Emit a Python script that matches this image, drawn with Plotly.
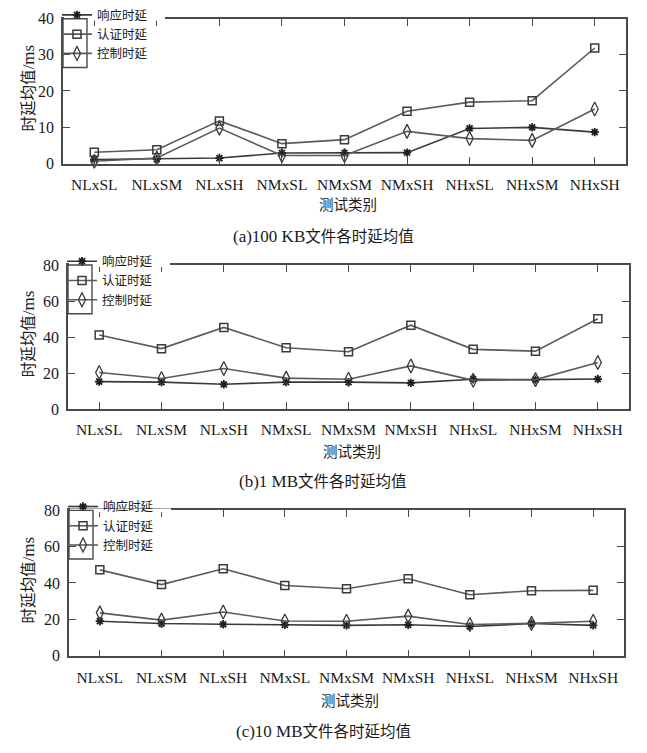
import plotly.graph_objects as go

W, H = 647, 753

categories = ["NLxSL", "NLxSM", "NLxSH", "NMxSL", "NMxSM", "NMxSH", "NHxSL", "NHxSM", "NHxSH"]
series_names = ["响应时延", "认证时延", "控制时延"]

# (a) 100 KB
resp_100kb = [1.0, 1.1, 1.4, 2.8, 2.8, 2.9, 9.6, 9.9, 8.6]
auth_100kb = [3.0, 3.7, 11.7, 5.4, 6.5, 14.4, 16.9, 17.3, 31.9]
ctrl_100kb = [0.5, 1.4, 9.7, 2.1, 2.1, 8.8, 6.8, 6.3, 15.0]

# (b) 1 MB
resp_1mb = [15.3, 15.0, 13.8, 15.0, 15.0, 14.6, 16.6, 16.4, 16.7]
auth_1mb = [41.2, 33.6, 45.4, 34.1, 31.9, 46.6, 33.2, 32.2, 50.2]
ctrl_1mb = [20.3, 17.0, 22.6, 17.2, 16.6, 24.0, 16.0, 16.4, 25.9]

# (c) 10 MB
resp_10mb = [18.9, 17.6, 17.2, 16.9, 16.6, 16.9, 16.0, 17.6, 16.6]
auth_10mb = [47.2, 39.1, 47.8, 38.6, 36.8, 42.3, 33.5, 35.7, 35.9]
ctrl_10mb = [23.5, 19.5, 24.0, 19.0, 18.9, 21.7, 17.1, 17.7, 18.9]

captions = ["(a)100 KB文件各时延均值", "(b)1 MB文件各时延均值", "(c)10 MB文件各时延均值"]
y_ticks_a = [0, 10, 20, 30, 40]
y_ticks_bc = [0, 20, 40, 60, 80]

panels = [
    dict(series=[resp_100kb, auth_100kb, ctrl_100kb], yrange=[-0.2, 40], yticks=y_ticks_a,
         box=(63, 626, 8, 157), xtitle_y=198, caption_y=230),
    dict(series=[resp_1mb, auth_1mb, ctrl_1mb], yrange=[0, 80], yticks=y_ticks_bc,
         box=(68, 629, 261, 409), xtitle_y=451, caption_y=482),
    dict(series=[resp_10mb, auth_10mb, ctrl_10mb], yrange=[-0.5, 80], yticks=y_ticks_bc,
         box=(69, 624, 513, 663), xtitle_y=707, caption_y=739),
]

LINE = "#5b5b5b"
FRAME = "#4a4a4a"
TXT = "#1a1a1a"
SERIF = "Liberation Serif"
CJK = "Noto Sans CJK SC"

marker_styles = [
    dict(symbol="asterisk-open", size=7, color="#1e1e1e", line=dict(color="#1e1e1e", width=1.8)),
    dict(symbol="square-open", size=8, color="#3a3a3a", line=dict(color="#3a3a3a", width=1.5)),
    dict(symbol="diamond-tall-open", size=10, color="#3a3a3a", line=dict(color="#3a3a3a", width=1.3)),
]


def px_x(x):
    return x / W


def px_y(y):
    return 1 - y / H


fig = go.Figure()
layout = dict(
    width=W, height=H,
    margin=dict(l=0, r=0, t=0, b=0),
    paper_bgcolor="white", plot_bgcolor="white",
    showlegend=True,
    shapes=[], annotations=[],
)

for i, p in enumerate(panels):
    n = "" if i == 0 else str(i + 1)
    xa, ya = "x" + n, "y" + n
    legend_name = "legend" + n
    x0, x1, y0, y1 = p["box"]

    for k, (vals, name) in enumerate(zip(p["series"], series_names)):
        fig.add_trace(go.Scatter(
            x=list(range(len(categories))), y=vals, name=name,
            mode="lines+markers", xaxis=xa, yaxis=ya, legend=legend_name,
            line=dict(color=LINE if k else "#3a3a3a", width=1.6),
            marker=marker_styles[k],
            cliponaxis=False,
        ))

    layout["xaxis" + n] = dict(
        domain=[px_x(x0), px_x(x1)], anchor=ya, range=[-0.5, 8.5],
        tickmode="array", tickvals=list(range(len(categories))), ticktext=categories,
        ticks="inside", ticklen=7, tickcolor=FRAME, tickwidth=1,
        showline=True, linecolor=FRAME, linewidth=1.5, mirror="allticks",
        showgrid=False, zeroline=False, fixedrange=True,
        tickfont=dict(family=SERIF, size=15.5, color=TXT), ticklabelstandoff=6,
    )
    layout["yaxis" + n] = dict(
        domain=[px_y(y1), px_y(y0)], anchor=xa, range=p["yrange"],
        tickmode="array", tickvals=p["yticks"],
        ticks="inside", ticklen=7, tickcolor=FRAME, tickwidth=1,
        showline=True, linecolor=FRAME, linewidth=1.5, mirror="allticks",
        showgrid=False, zeroline=False, fixedrange=True,
        tickfont=dict(family=SERIF, size=16, color=TXT), ticklabelstandoff=4,
    )

    # legend panel: white patch over the top frame and a small box round the keys
    layout["shapes"].append(dict(type="rect", xref="paper", yref="paper",
                                 x0=px_x(x0 + 1), x1=px_x(x0 + 102), y0=px_y(y0 + 2), y1=px_y(y0 - 2),
                                 fillcolor="white", line=dict(width=0), layer="above"))
    layout["shapes"].append(dict(type="rect", xref="paper", yref="paper",
                                 x0=px_x(x0), x1=px_x(x0 + 24), y0=px_y(y0 + 50), y1=px_y(y0),
                                 fillcolor="rgba(0,0,0,0)", line=dict(color=FRAME, width=1.4),
                                 layer="above"))
    layout[legend_name] = dict(
        x=px_x(x0 - 6), y=px_y(y0 - 19), xanchor="left", yanchor="top",
        bgcolor="rgba(0,0,0,0)", borderwidth=0,
        font=dict(family=CJK, size=12.5, color=TXT),
        tracegroupgap=0, itemclick=False, itemdoubleclick=False,
    )

    # y-axis title, x-axis title and caption
    ymid = (y0 + y1) / 2
    layout["annotations"].append(dict(
        xref="paper", yref="paper", x=px_x(27), y=px_y(ymid - 3), showarrow=False,
        textangle=-90, xanchor="center", yanchor="middle",
        text="时延均值<span style='font-family:Liberation Serif;font-size:17px'>/ms</span>",
        font=dict(family=CJK, size=15.5, color=TXT),
    ))
    layout["annotations"].append(dict(
        xref="paper", yref="paper", x=px_x((x0 + x1) / 2 + 3), y=px_y(p["xtitle_y"]),
        showarrow=False, xanchor="center", yanchor="middle",
        text="测试类别", font=dict(family=CJK, size=14.5, color=TXT),
    ))
    cap = captions[i]
    head, tail = cap.split("文件", 1)
    layout["annotations"].append(dict(
        xref="paper", yref="paper", x=px_x(323), y=px_y(p["caption_y"]),
        showarrow=False, xanchor="center", yanchor="middle",
        text="<span style='font-family:Liberation Serif;font-size:17px'>" + head + "</span>文件" + tail,
        font=dict(family=CJK, size=15.5, color=TXT),
    ))

fig.update_layout(**layout)
fig.write_html("out.html")
